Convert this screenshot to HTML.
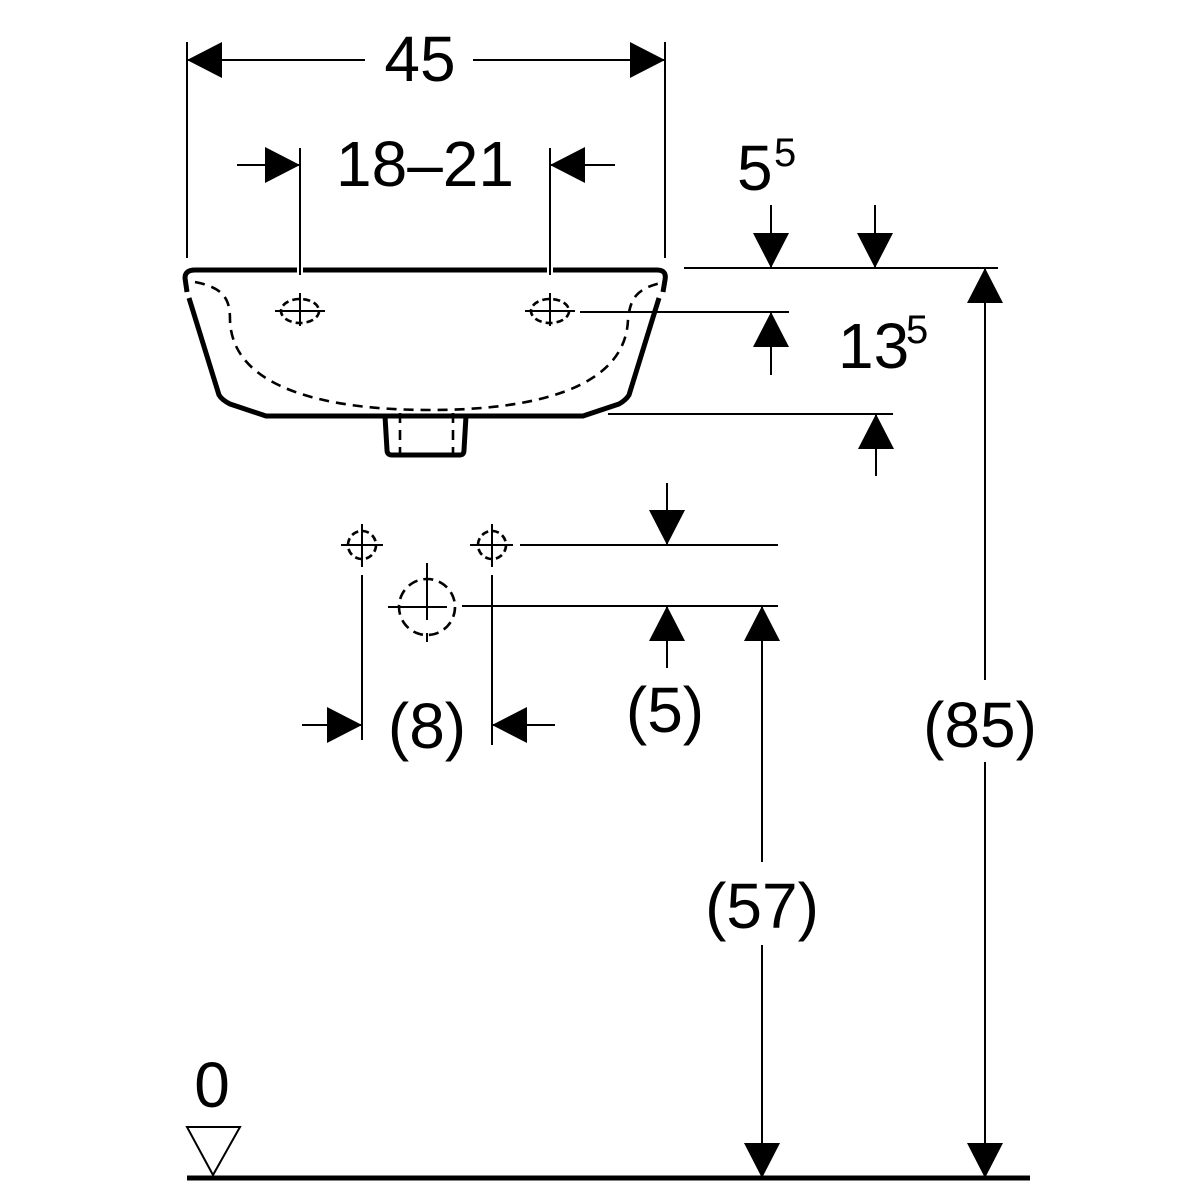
<!DOCTYPE html>
<html><head><meta charset="utf-8"><style>html,body{margin:0;padding:0;background:#fff}svg{display:block}text{font-family:"Liberation Sans",sans-serif;fill:#000}</style></head><body>
<svg width="1200" height="1200" viewBox="0 0 1200 1200" xmlns="http://www.w3.org/2000/svg">
<defs>
<path id="aR" d="M0 0 L-35 -18 L-35 18 Z"/>
</defs>
<g stroke="#000" stroke-width="2" fill="none">
<line x1="187" y1="42" x2="187" y2="258"/><line x1="665" y1="42" x2="665" y2="258"/>
<line x1="187" y1="60" x2="365" y2="60"/><line x1="473" y1="60" x2="665" y2="60"/>
<line x1="300" y1="148" x2="300" y2="275"/><line x1="550" y1="148" x2="550" y2="275"/>
<line x1="237" y1="165" x2="300" y2="165"/><line x1="550" y1="165" x2="615" y2="165"/>
<line x1="684" y1="268" x2="998" y2="268"/>
<line x1="771" y1="205" x2="771" y2="268"/><line x1="875" y1="205" x2="875" y2="268"/>
<line x1="580" y1="312" x2="789" y2="312"/><line x1="771" y1="312" x2="771" y2="375"/>
<line x1="608" y1="414" x2="893" y2="414"/><line x1="876" y1="414" x2="876" y2="476"/>
<line x1="985" y1="268" x2="985" y2="680"/><line x1="985" y1="762" x2="985" y2="1178"/>
<line x1="520" y1="545" x2="778" y2="545"/><line x1="462" y1="606" x2="778" y2="606"/>
<line x1="667" y1="483" x2="667" y2="545"/><line x1="667" y1="606" x2="667" y2="668"/>
<line x1="762" y1="606" x2="762" y2="862"/><line x1="762" y1="945" x2="762" y2="1178"/>
<line x1="362" y1="575" x2="362" y2="740"/><line x1="492" y1="575" x2="492" y2="745"/>
<line x1="302" y1="725" x2="362" y2="725"/><line x1="492" y1="725" x2="555" y2="725"/>
<line x1="341" y1="545" x2="383" y2="545"/><line x1="362" y1="524" x2="362" y2="567"/>
<line x1="470" y1="545" x2="513" y2="545"/><line x1="492" y1="524" x2="492" y2="567"/>
<line x1="388" y1="607" x2="447" y2="607"/><line x1="427" y1="563" x2="427" y2="620"/><line x1="427" y1="633" x2="427" y2="642"/>
<line x1="275" y1="311" x2="325" y2="311"/><line x1="300" y1="293" x2="300" y2="326"/>
<line x1="525" y1="311" x2="575" y2="311"/><line x1="550" y1="293" x2="550" y2="326"/>
</g>
<g stroke="#000" stroke-width="2.6" fill="none">
<circle cx="362" cy="545" r="14" stroke-dasharray="7 4"/><circle cx="492" cy="545" r="14" stroke-dasharray="7 4"/>
<circle cx="427" cy="607" r="28" stroke-dasharray="10 6"/>
<ellipse cx="300" cy="311" rx="19" ry="12" stroke-dasharray="7 4"/>
<ellipse cx="550" cy="311" rx="19" ry="12" stroke-dasharray="7 4"/>
<path d="M195 282 C225 288 230 300 230 320 C232 390 330 410 430 410 C530 410 625 390 628 320 C630 300 635 288 665 282" stroke-dasharray="10 7"/>
<line x1="400" y1="413" x2="400" y2="455" stroke-dasharray="10 7"/>
<line x1="453" y1="413" x2="453" y2="455" stroke-dasharray="10 7"/>
</g>
<g stroke="#000" stroke-width="5" fill="none" stroke-linejoin="round">
<path d="M187 292 L185 278 Q185 270 195 270 L297 270 M303 270 L547 270 M553 270 L657 270 Q667 270 665 280 L663 292"/>
<path d="M189 298 L219 395 Q222 400 230 404 L266 416 L583 416 L619 404 Q626 400 629 395 L659 298"/>
<path d="M385 416 L387 450 Q387 455 392 455 L460 455 Q464 455 464 450 L466 416"/>
<line x1="187" y1="1178" x2="1030" y2="1178"/>
</g>
<path d="M187 1127 L240 1127 L213 1175 Z" stroke="#000" stroke-width="2" fill="none"/>
<g fill="#000">
<use href="#aR" transform="translate(187,60) rotate(180)"/>
<use href="#aR" transform="translate(665,60)"/>
<use href="#aR" transform="translate(300,165)"/>
<use href="#aR" transform="translate(550,165) rotate(180)"/>
<use href="#aR" transform="translate(771,268) rotate(90)"/>
<use href="#aR" transform="translate(875,268) rotate(90)"/>
<use href="#aR" transform="translate(771,312) rotate(-90)"/>
<use href="#aR" transform="translate(876,414) rotate(-90)"/>
<use href="#aR" transform="translate(985,268) rotate(-90)"/>
<use href="#aR" transform="translate(985,1178) rotate(90)"/>
<use href="#aR" transform="translate(667,545) rotate(90)"/>
<use href="#aR" transform="translate(667,606) rotate(-90)"/>
<use href="#aR" transform="translate(762,606) rotate(-90)"/>
<use href="#aR" transform="translate(762,1178) rotate(90)"/>
<use href="#aR" transform="translate(362,725)"/>
<use href="#aR" transform="translate(492,725) rotate(180)"/>
</g>
<g font-size="64" text-anchor="middle">
<text x="420" y="81">45</text>
<text x="425" y="186">18–21</text>
<text x="737" y="190" text-anchor="start">5</text>
<text x="774" y="166" font-size="40" text-anchor="start">5</text>
<text x="838" y="368" text-anchor="start">13</text>
<text x="906" y="343" font-size="40" text-anchor="start">5</text>
<text x="980" y="747">(85)</text>
<text x="427" y="748">(8)</text>
<text x="665" y="732">(5)</text>
<text x="762" y="928">(57)</text>
<text x="212" y="1107">0</text>
</g>
</svg>
</body></html>
